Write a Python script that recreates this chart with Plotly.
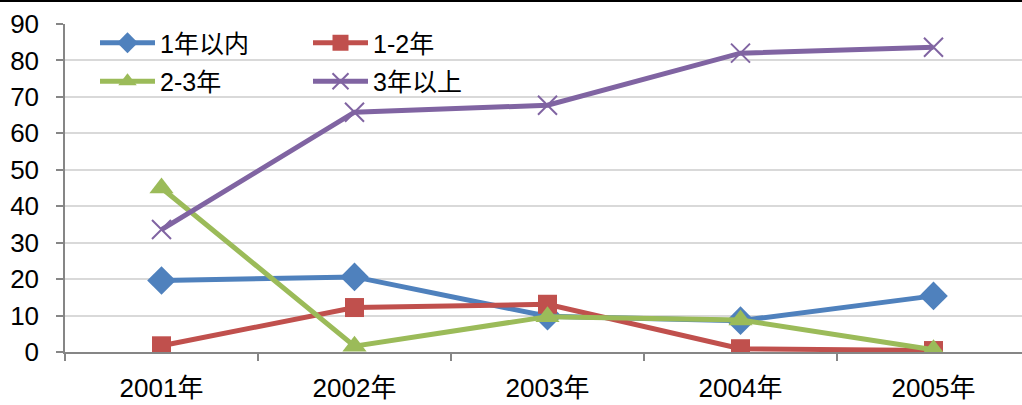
import plotly.graph_objects as go

years = ["2001年", "2002年", "2003年", "2004年", "2005年"]
within_1 = [19.6, 20.6, 9.8, 8.6, 15.4]
y1_2 = [1.7, 12.2, 13.1, 0.9, 0.4]
y2_3 = [45.0, 1.6, 9.7, 8.8, 0.6]
over_3 = [33.6, 65.8, 67.7, 82.0, 83.6]
y_ticks = [0, 10, 20, 30, 40, 50, 60, 70, 80, 90]

FONT = "Liberation Sans, Arial, Noto Sans CJK SC, sans-serif"
W, H = 1022, 405
L, T, B = 65, 24, 53
plot_w = W - L
plot_h = H - T - B

series = [
    ("1年以内", within_1, "#4F81BD", "diamond", 22, "legend"),
    ("1-2年", y1_2, "#C0504D", "square", 19, "legend2"),
    ("2-3年", y2_3, "#9BBB59", "triangle-up", 21, "legend"),
    ("3年以上", over_3, "#8064A2", "x-thin-open", 19, "legend2"),
]

fig = go.Figure()
for name, vals, color, sym, size, lg in series:
    fig.add_trace(go.Scatter(
        x=years, y=vals, name=name, mode="lines+markers",
        line=dict(color=color, width=5),
        marker=dict(symbol=sym, size=size, color=color,
                    line=dict(color=color, width=2 if sym.startswith("x") else 0)),
        legend=lg, legendgroup=name,
    ))

xmax = -0.5 + plot_w / 193.0

legend_common = dict(
    xref="paper", yref="paper", xanchor="left", yanchor="top",
    font=dict(family=FONT, size=25, color="#000000"),
    bgcolor="rgba(0,0,0,0)", itemwidth=55, tracegroupgap=3,
    orientation="v",
)

fig.update_layout(
    width=W, height=H,
    margin=dict(l=L, r=0, t=T, b=B, autoexpand=False),
    paper_bgcolor="white", plot_bgcolor="white",
    font=dict(family=FONT, size=26, color="#000000"),
    showlegend=True,
    legend=dict(x=(95 - L) / plot_w, y=1.0 + 4 / plot_h, **legend_common),
    legend2=dict(x=(308 - L) / plot_w, y=1.0 + 4 / plot_h, **legend_common),
    xaxis=dict(
        type="category", range=[-0.5, xmax],
        showline=True, linecolor="#868686", linewidth=1.5,
        ticks="outside", tickson="boundaries", ticklen=7, tickcolor="#868686", tickwidth=1.5,
        showgrid=False, tickfont=dict(family=FONT, size=26),
        ticklabelstandoff=12,
    ),
    yaxis=dict(
        range=[0, 90], tickvals=y_ticks, ticktext=[str(v) for v in y_ticks],
        showline=True, linecolor="#868686", linewidth=1.5,
        ticks="outside", ticklen=7, tickcolor="#868686", tickwidth=1.5,
        showgrid=True, gridcolor="#D9D9D9", gridwidth=1.5,
        zeroline=False, tickfont=dict(family=FONT, size=26),
        ticklabelstandoff=12,
    ),
    shapes=[dict(type="line", xref="paper", yref="paper",
                 x0=-L / plot_w, x1=1.0, y0=1 + (T - 1) / plot_h, y1=1 + (T - 1) / plot_h,
                 line=dict(color="#000000", width=2))],
)

fig.write_html("out.html", config={"displayModeBar": False},
               post_script="document.body.style.margin='0';document.body.style.overflow='hidden';")
